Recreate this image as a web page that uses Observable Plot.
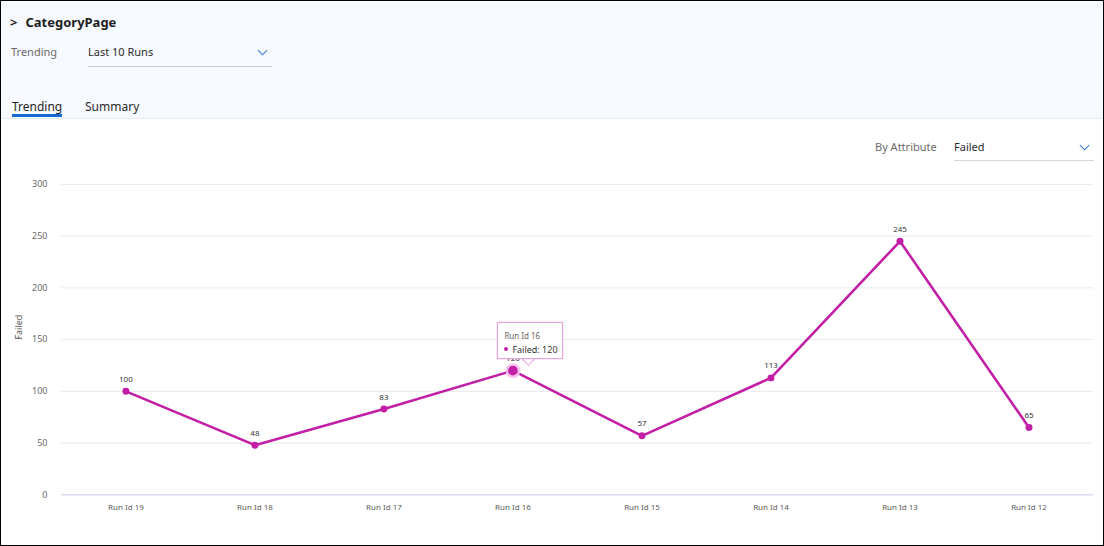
<!DOCTYPE html>
<html>
<head>
<meta charset="utf-8">
<script src="https://cdn.jsdelivr.net/npm/d3@7"></script>
<script src="https://cdn.jsdelivr.net/npm/@observablehq/plot@0.6"></script>
<style>
  html, body { margin: 0; padding: 0; }
  body { width: 1104px; height: 546px; overflow: hidden; font-family: "Noto Sans", "Open Sans", sans-serif; }
  #frame { position: relative; width: 1104px; height: 546px; box-sizing: border-box; border: 1px solid #000; background: #fff; overflow: hidden; }
  #header { position: absolute; left: 0; top: 0; width: 100%; height: 117px; background: #f6f9fd; border-bottom: 1px solid #e6ebf2; }
  .abs { position: absolute; white-space: nowrap; }
  #title { left: 9px; top: 12px; font-size: 13px; font-weight: 700; color: #1e1e1e; }
  #title .chev { display: inline-block; margin-right: 8px; font-weight: 700; }
  #trendLbl { left: 10px; top: 43px; font-size: 11px; color: #6b6b6b; }
  #dd1 { left: 87px; top: 43px; width: 184px; height: 22px; border-bottom: 1px solid #c9ced6; font-size: 11px; color: #2b2b2b; }
  .chevd { position: absolute; right: 6px; top: 3px; width: 6px; height: 6px; border-right: 1.3px solid #3b7dd8; border-bottom: 1.3px solid #3b7dd8; transform: rotate(45deg); }
  #tab1 { left: 11px; top: 97px; font-size: 12px; color: #1e1e1e; }
  #tab1u { left: 11px; top: 113px; width: 50px; height: 3px; background: #1769d4; }
  #tab2 { left: 84px; top: 97px; font-size: 12px; color: #2b2b2b; }
  #byAttr { left: 874px; top: 138px; font-size: 11px; color: #6b6b6b; }
  #dd2 { left: 953px; top: 138px; width: 140px; height: 21px; border-bottom: 1px solid #d5d9df; font-size: 11px; color: #2b2b2b; }
  #chart { position: absolute; left: 0; top: 118px; }
  #tip { position: absolute; width: 66px; height: 37px; background: #fff; border: 1px solid #e7a3db; box-sizing: border-box; box-shadow: 0 0 2px rgba(200,40,170,0.25); font-size: 8px; }
  #tip .l1 { position: absolute; left: 6px; top: 7px; color: #666; }
  #tip .l2 { position: absolute; left: 6px; top: 20px; color: #333; font-size: 9px; }
  #tip .dot { display: inline-block; width: 4px; height: 4px; border-radius: 50%; background: #c21fa6; margin-right: 4px; vertical-align: middle; position: relative; top: -1px; }
  #tipArrow { position: absolute; width: 8px; height: 8px; background: #fff; border-right: 1px solid #e7a3db; border-bottom: 1px solid #e7a3db; transform: rotate(45deg); }
</style>
</head>
<body>
<div id="frame">
  <div id="header"></div>
  <div class="abs" id="title"><span class="chev">&gt;</span>CategoryPage</div>
  <div class="abs" id="trendLbl">Trending</div>
  <div class="abs" id="dd1">Last 10 Runs<span class="chevd"></span></div>
  <div class="abs" id="tab1">Trending</div>
  <div class="abs" id="tab1u"></div>
  <div class="abs" id="tab2">Summary</div>
  <div class="abs" id="byAttr">By Attribute</div>
  <div class="abs" id="dd2">Failed<span class="chevd"></span></div>
  <div id="chart"></div>
</div>
<script>
const runs = ["Run Id 19", "Run Id 18", "Run Id 17", "Run Id 16", "Run Id 15", "Run Id 14", "Run Id 13", "Run Id 12"];
const failed = [100, 48, 83, 120, 57, 113, 245, 65];
const yTicks = [0, 50, 100, 150, 200, 250, 300];
const highlightRun = "Run Id 16";

const data = runs.map((r, i) => ({run: r, failed: failed[i]}));
const hi = data.filter(d => d.run === highlightRun);
const color = "#c21fa6";

const plot = Plot.plot({
  width: 1104,
  height: 416,
  marginLeft: 60,
  marginRight: 10,
  marginTop: 65,
  marginBottom: 40,
  style: {fontFamily: "'Noto Sans', 'Open Sans', sans-serif", background: "transparent", overflow: "visible"},
  x: {type: "point", domain: runs, padding: 0.5, round: false, label: null},
  y: {domain: [0, 300], ticks: yTicks, label: null},
  marks: [
    Plot.gridY(yTicks.filter(t => t > 0), {stroke: "#e9e9ee", strokeOpacity: 1, strokeWidth: 1}),
    Plot.ruleY([0], {stroke: "#d9d9f0", strokeWidth: 1.5}),
    Plot.axisY({ticks: yTicks, tickSize: 0, tickPadding: 14, fontSize: 9, fill: "#6b6b6b", label: null}),
    Plot.axisX({tickSize: 0, tickPadding: 10, fontSize: 8, fill: "#5a5a5a", label: null}),
    Plot.text(["Failed"], {frameAnchor: "left", dx: -42, rotate: -90, fontSize: 9, fill: "#555"}),
    Plot.line(data, {x: "run", y: "failed", stroke: color, strokeWidth: 2.6}),
    Plot.dot(data, {x: "run", y: "failed", r: 3.5, fill: color}),
    Plot.dot(hi, {x: "run", y: "failed", r: 7.5, fill: "#f5bfe9", fillOpacity: 0.9}),
    Plot.dot(hi, {x: "run", y: "failed", r: 4.8, fill: color}),
    Plot.text(data, {x: "run", y: "failed", text: d => String(d.failed), dy: -12, fontSize: 8, fill: "#333"})
  ]
});
document.getElementById("chart").appendChild(plot);

// tooltip positioned with the plot's scales
const xs = plot.scale("x"), ys = plot.scale("y");
const px = xs.apply(highlightRun), py = ys.apply(hi[0].failed) + 118;
const frame = document.getElementById("frame");
const arrow = document.createElement("div");
arrow.id = "tipArrow";
arrow.style.left = (px + 11) + "px";
arrow.style.top = (py - 16) + "px";
frame.appendChild(arrow);
const tip = document.createElement("div");
tip.id = "tip";
tip.style.left = (px - 16) + "px";
tip.style.top = (py - 49) + "px";
tip.innerHTML = `<span class="l1">${hi[0].run}</span><span class="l2"><span class="dot"></span>Failed: ${hi[0].failed}</span>`;
frame.appendChild(tip);
</script>
</body>
</html>
